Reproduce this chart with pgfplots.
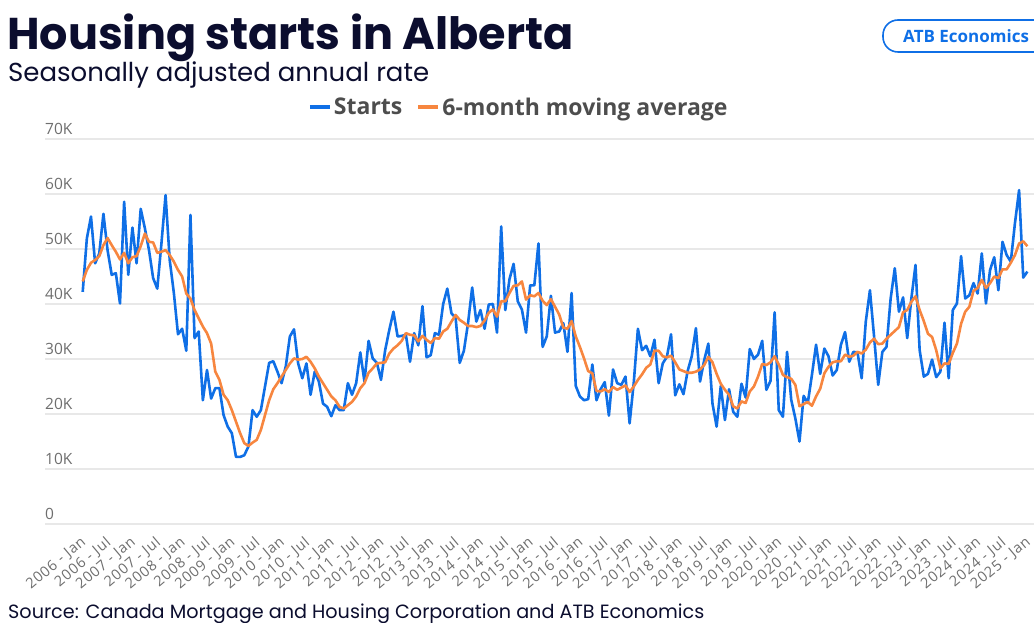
\documentclass[border=0pt]{standalone}
\usepackage{pgfplots}
\pgfplotsset{compat=1.18}
\usepackage{pgfplotstable}
\usepackage{fontspec}
\setmainfont{Open Sans}
\newfontfamily\poppins{Poppins}
\newfontfamily\tickfont[LetterSpace=6]{Open Sans}
\definecolor{starts}{HTML}{0F6FE6}
\definecolor{mavg}{HTML}{F7863F}
\definecolor{navy}{HTML}{0B0D2E}
\definecolor{tickgray}{HTML}{6E6E6E}
\definecolor{leggray}{HTML}{4D4D4D}
\definecolor{gridgray}{HTML}{E8E8E8}

% m = months since 2006-Jan; s = starts (thousands, SAAR); a = 6-month moving average
\pgfplotstableread{
m s a
0 42.2 44.1
1 51.9 46.2
2 55.9 47.5
3 47.4 48.0
4 49.2 48.7
5 56.4 50.7
6 49.8 52.0
7 45.3 50.7
8 45.6 49.5
9 40.1 48.1
10 58.6 49.3
11 45.3 47.4
12 53.9 48.5
13 47.4 48.7
14 57.3 50.5
15 53.8 52.8
16 49.8 51.3
17 44.7 51.2
18 42.8 49.3
19 51.0 49.5
20 59.8 49.8
21 48.0 48.9
22 42.0 47.7
23 34.5 46.2
24 35.5 45.0
25 31.5 41.9
26 56.2 41.0
27 33.8 38.9
28 35.0 37.4
29 22.5 35.9
30 28.0 34.7
31 22.8 32.8
32 24.7 27.7
33 24.7 26.2
34 19.8 23.5
35 17.7 22.5
36 16.5 20.7
37 12.2 18.6
38 12.2 16.5
39 12.5 14.7
40 14.1 14.2
41 20.7 14.8
42 19.5 15.3
43 20.7 17.1
44 25.0 19.8
45 29.3 22.5
46 29.6 24.5
47 27.7 25.6
48 25.6 26.8
49 28.6 28.0
50 34.1 29.2
51 35.4 30.1
52 29.2 29.9
53 26.5 30.0
54 29.2 30.4
55 23.5 29.5
56 27.7 28.3
57 25.9 26.8
58 21.9 25.6
59 21.3 24.4
60 19.6 23.2
61 21.6 22.5
62 20.7 21.3
63 20.7 21.0
64 25.6 21.6
65 23.5 22.2
66 25.6 23.2
67 31.2 24.7
68 25.9 25.6
69 33.3 27.5
70 30.1 28.3
71 29.3 29.2
72 26.2 29.3
73 31.6 29.4
74 35.3 31.0
75 38.6 31.9
76 34.1 32.5
77 34.2 33.3
78 34.4 34.7
79 29.5 34.4
80 34.7 34.3
81 32.5 33.2
82 39.6 34.2
83 30.3 33.5
84 30.7 32.9
85 34.7 33.8
86 34.4 33.7
87 40.0 35.0
88 42.8 35.5
89 38.3 36.8
90 37.5 38.0
91 29.3 37.1
92 31.5 36.6
93 36.5 36.0
94 43.0 36.0
95 36.8 35.8
96 38.9 36.0
97 35.5 37.0
98 39.9 38.4
99 40.0 39.0
100 34.8 37.7
101 54.1 40.5
102 38.9 40.5
103 44.5 42.0
104 47.3 43.3
105 40.5 43.4
106 39.0 44.1
107 34.8 40.8
108 43.4 41.6
109 43.4 41.4
110 51.0 42.0
111 32.2 40.6
112 34.1 39.8
113 41.5 40.9
114 34.8 39.5
115 35.0 38.1
116 36.5 35.7
117 31.3 35.5
118 42.0 36.9
119 25.1 34.1
120 23.2 32.2
121 22.5 30.1
122 22.7 27.8
123 29.0 27.4
124 22.5 24.2
125 24.5 24.1
126 25.8 24.5
127 19.7 24.0
128 28.1 24.9
129 25.6 24.4
130 25.3 24.8
131 26.8 25.2
132 18.3 24.0
133 25.7 25.0
134 35.5 26.2
135 31.6 27.2
136 32.4 28.4
137 30.5 29.0
138 33.5 31.5
139 25.6 31.5
140 29.2 30.5
141 30.4 30.3
142 34.5 30.6
143 23.4 29.4
144 25.4 28.1
145 23.6 27.8
146 27.8 27.5
147 30.5 27.5
148 35.6 27.7
149 25.9 28.1
150 29.8 28.9
151 32.8 30.4
152 21.9 29.4
153 17.7 27.3
154 25.1 25.5
155 18.9 24.4
156 24.5 23.5
157 20.4 21.4
158 19.5 21.0
159 25.5 22.3
160 23.0 22.0
161 31.8 24.1
162 30.0 25.0
163 30.8 26.8
164 33.3 29.1
165 24.4 28.9
166 26.0 29.4
167 38.5 30.5
168 20.7 29.0
169 19.5 27.1
170 31.3 26.7
171 22.6 26.4
172 19.2 25.3
173 15.0 21.4
174 23.3 21.8
175 22.0 22.2
176 27.1 21.5
177 32.6 23.2
178 27.3 24.6
179 31.9 27.4
180 30.5 28.6
181 27.0 29.4
182 28.0 29.6
183 32.6 29.6
184 34.9 30.8
185 29.5 30.4
186 31.3 30.6
187 31.2 31.3
188 26.5 31.0
189 36.8 31.7
190 42.5 33.0
191 34.1 33.7
192 25.3 32.7
193 31.3 32.8
194 32.2 33.7
195 41.0 34.4
196 46.5 35.1
197 38.6 35.8
198 41.2 38.5
199 33.8 38.9
200 41.0 40.4
201 47.1 41.4
202 31.6 38.9
203 26.8 36.9
204 27.3 34.6
205 29.9 34.0
206 26.7 31.6
207 27.7 28.3
208 36.6 29.2
209 26.5 29.1
210 38.9 31.1
211 40.1 32.8
212 48.7 36.4
213 41.0 38.6
214 41.6 39.5
215 43.8 42.4
216 41.9 42.9
217 49.2 44.4
218 40.1 42.9
219 46.2 43.8
220 48.5 45.0
221 42.5 44.7
222 51.3 46.3
223 48.9 46.3
224 47.7 47.5
225 54.7 48.9
226 60.7 51.0
227 44.8 51.4
228 45.9 50.5
}\housing

\begin{document}
\begin{tikzpicture}
\useasboundingbox (0pt,0pt) rectangle (1034pt,622pt);
\node[anchor=base west, inner sep=0pt, text=navy, font=\poppins\bfseries\fontsize{44.5}{44.5}\selectfont] at (7pt,572pt) {Housing starts in Alberta};
\node[anchor=base west, inner sep=0pt, text=navy, font=\poppins\fontsize{26}{26}\selectfont] at (8pt,540pt) {Seasonally adjusted annual rate};
\draw[starts, line width=1.6pt, rounded corners=15pt] (883pt,570pt) rectangle (1060pt,602pt);
\node[anchor=west, inner sep=0pt, text=starts, font=\bfseries\fontsize{17}{17}\selectfont] at (903pt,586pt) {ATB Economics};
\node[anchor=base west, inner sep=0pt, text=navy, font=\poppins\fontsize{19.2}{19.2}\selectfont] at (8pt,4pt) {Source: Canada Mortgage and Housing Corporation and ATB Economics};
\begin{axis}[
  at={(45pt,98pt)}, anchor=south west,
  scale only axis, width=989pt, height=385pt,
  xmin=-9.1, xmax=229.6, ymin=0, ymax=70,
  axis line style={draw=none},
  major tick length=0pt,
  ymajorgrids, grid style={gridgray, line width=1.3pt},
  ytick={0,10,...,70},
  yticklabels={0,10K,20K,30K,40K,50K,60K,70K},
  yticklabel style={anchor=south west, inner sep=0pt, yshift=4pt, font=\fontsize{15.5}{15.5}\selectfont, text=tickgray},
  xtick={0,6,...,228},
  xticklabels={2006 - Jan,2006 - Jul,2007 - Jan,2007 - Jul,2008 - Jan,2008 - Jul,2009 - Jan,2009 - Jul,2010 - Jan,2010 - Jul,2011 - Jan,2011 - Jul,2012 - Jan,2012 - Jul,2013 - Jan,2013 - Jul,2014 - Jan,2014 - Jul,2015 - Jan,2015 - Jul,2016 - Jan,2016 - Jul,2017 - Jan,2017 - Jul,2018 - Jan,2018 - Jul,2019 - Jan,2019 - Jul,2020 - Jan,2020 - Jul,2021 - Jan,2021 - Jul,2022 - Jan,2022 - Jul,2023 - Jan,2023 - Jul,2024 - Jan,2024 - Jul,2025 - Jan},
  xticklabel style={rotate=40, anchor=north east, inner sep=0pt, xshift=-9.4pt, yshift=-6.5pt, font=\tickfont\fontsize{14.5}{14.5}\selectfont, text=tickgray},
  legend style={at={(axis description cs:0.479,1.083)}, anchor=center, draw=none, fill=none,
    legend columns=-1, font=\bfseries\fontsize{23}{23}\selectfont, text=leggray,
    /tikz/every even column/.append style={column sep=12pt}},
  legend image code/.code={\draw[#1, line width=4pt] (0pt,0pt) -- (20pt,0pt);},
]
\addplot[starts, line width=2.6pt, line join=round] table[x=m, y=s] {\housing};
\addlegendentry{Starts}
\addplot[mavg, line width=2.6pt, line join=round] table[x=m, y=a] {\housing};
\addlegendentry{6-month moving average}
\end{axis}
\end{tikzpicture}
\end{document}
